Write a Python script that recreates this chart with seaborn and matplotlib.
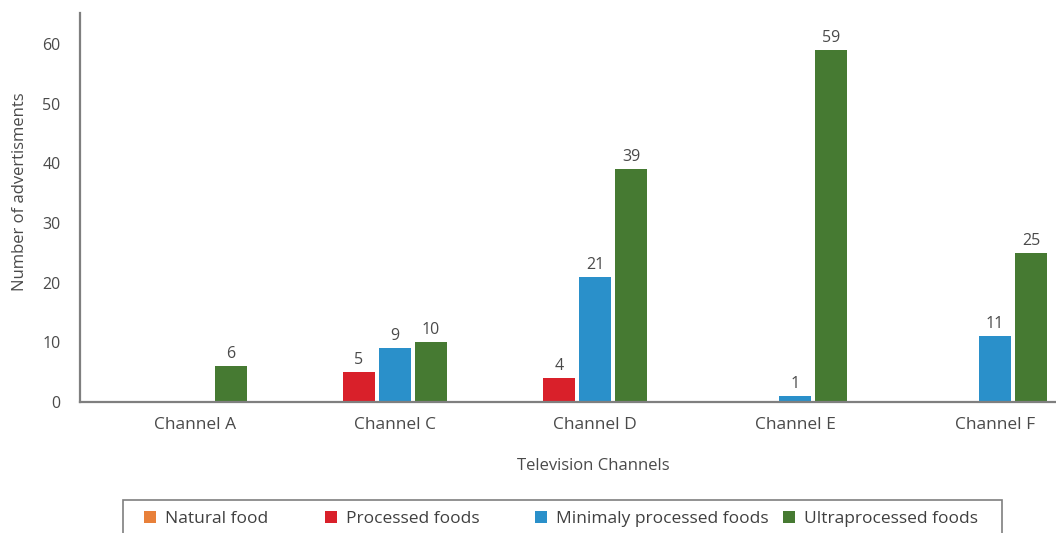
import matplotlib
matplotlib.use("Agg")
import matplotlib.pyplot as plt
from matplotlib.patches import Rectangle
import seaborn as sns
import pandas as pd
import numpy as np

channels = ["Channel A", "Channel C", "Channel D", "Channel E", "Channel F"]
series_names = ["Natural food", "Processed foods", "Minimaly processed foods", "Ultraprocessed foods"]
natural_food = [0, 0, 0, 0, 0]
processed_foods = [0, 5, 4, 0, 0]
minimaly_processed = [0, 9, 21, 1, 11]
ultraprocessed = [6, 10, 39, 59, 25]
colors = ["#E8803A", "#D9202A", "#2A90CA", "#467A32"]
y_ticks = [0, 10, 20, 30, 40, 50, 60]

rows = []
for name, vals in zip(series_names, [natural_food, processed_foods, minimaly_processed, ultraprocessed]):
    for ch, v in zip(channels, vals):
        rows.append({"channel": ch, "type": name, "count": v})
df = pd.DataFrame(rows)

sns.set_style("white")
plt.rcParams["font.family"] = ["Open Sans", "DejaVu Sans"]
text_color = "#4a4a4a"

W, H = 1056, 533
fig = plt.figure(figsize=(W / 100, H / 100), dpi=100)
ax = fig.add_axes([80 / W, 131 / H, 976 / W, 389 / H])

sns.barplot(data=df, x="channel", y="count", hue="type", hue_order=series_names,
            palette=colors, saturation=1, width=0.72, gap=0.1, linewidth=0, ax=ax,
            errorbar=None)

for cont in ax.containers:
    vals = [p.get_height() for p in cont]
    ax.bar_label(cont, labels=[f"{int(v)}" if v else "" for v in vals],
                 padding=3, fontsize=11.5, color=text_color)

handles, labels = ax.get_legend_handles_labels()
if ax.legend_ is not None:
    ax.legend_.remove()

ax.set_xlim(-0.485, 4.395)
ax.set_ylim(0, 65.2)
ax.set_yticks(y_ticks)
ax.set_xticks(np.arange(len(channels)) + 0.09)
ax.set_xticklabels(channels)

for s in ["top", "right"]:
    ax.spines[s].set_visible(False)
for s in ["left", "bottom"]:
    ax.spines[s].set_color("#7f7f7f")
    ax.spines[s].set_linewidth(1.6)

ax.tick_params(axis="both", length=0, colors=text_color)
ax.tick_params(axis="y", pad=14, labelsize=11.5)
ax.tick_params(axis="x", pad=11, labelsize=12.5)

ax.set_xlabel("Television Channels", fontsize=12, color=text_color)
ax.xaxis.set_label_coords((593 - 80) / 976, -0.144)
ax.set_ylabel("Number of advertisments", fontsize=12, color=text_color)
ax.yaxis.set_label_coords(-0.053, 0.54)

# legend: frame partly cut off at the bottom edge, entries at fixed positions
frame = Rectangle((123 / W, -0.05), (1002 - 123) / W, (533 - 500) / H + 0.05,
                  transform=fig.transFigure, fill=False, edgecolor="#7f7f7f",
                  linewidth=1.2)
fig.add_artist(frame)
entry_x = [144, 325, 535, 783]
for h, l, x in zip(handles, labels, entry_x):
    fig.legend([h], [l], loc="center left", bbox_to_anchor=(x / W, 1 - 519 / H),
               frameon=False, fontsize=12.5, handlelength=0.7, handleheight=0.7,
               handletextpad=0.5, borderpad=0, borderaxespad=0,
               labelcolor="#404040")

fig.savefig("out.png", dpi=100)
